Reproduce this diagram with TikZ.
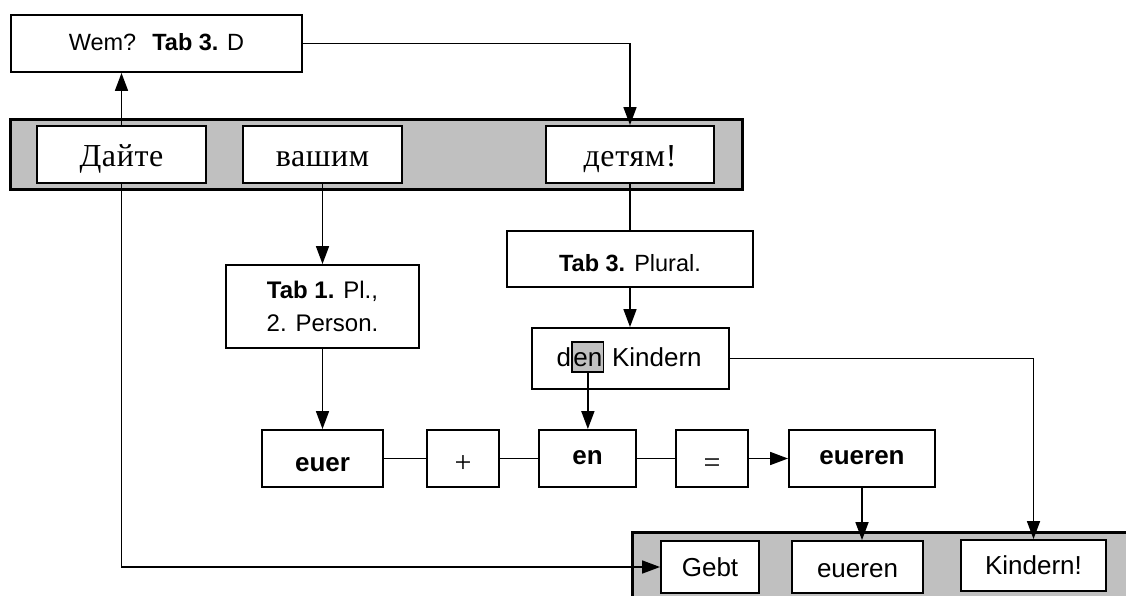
\documentclass[tikz,border=0pt]{standalone}
\usepackage{fontspec}
\setmainfont{Liberation Serif}
\newfontfamily\sansf{Liberation Sans}
\newfontfamily\rusf[LetterSpace=2]{Liberation Serif}
\usetikzlibrary{arrows.meta,calc}
\definecolor{bandgray}{HTML}{C0C0C0}

\begin{document}
\begin{tikzpicture}[x=1pt,y=-1pt,
  box/.style={draw, line width=1.9pt, fill=white, inner sep=0pt},
  tb/.style={text height=#1, text depth=0pt},
  band/.style={draw, fill=bandgray, line width=3.2pt},
  sz23/.style={font=\sansf\fontsize{23.5}{28}\selectfont},
  sz26/.style={font=\sansf\fontsize{26}{31}\selectfont},
  bf26/.style={font=\sansf\bfseries\fontsize{26}{31}\selectfont},
  ru/.style={font=\rusf\fontsize{32}{38}\selectfont},
  op/.style={font=\rmfamily\fontsize{30}{36}\selectfont},
  txt/.style={inner sep=0pt, font=\sansf\fontsize{26}{31}\selectfont},
  conn/.style={line width=1.7pt},
  arr/.style={conn, -{Triangle[length=18pt,width=13pt]}}]

\useasboundingbox (0,0) rectangle (1126,596);
\clip (0,0) rectangle (1126,596);

% grey sentence bands
\draw[band] (10.5,119.5) rectangle (742.5,189.5);
\draw[band] (632.5,532.5) rectangle (1140,610);

% question box
\node[box, sz23, tb=14.4pt, minimum width=291pt, minimum height=57pt] (wem) at (156.5,43.5)
  {Wem?\hspace{16pt}\textbf{Tab 3.} D};

% Russian sentence
\node[box, ru, tb=24.4pt, minimum width=169pt, minimum height=57pt] (daj) at (121.5,154.5) {Дайте};
\node[box, ru, tb=24.4pt, minimum width=159pt, minimum height=57pt] (vash) at (322.5,154.5) {вашим};
\node[box, ru, tb=24.4pt, minimum width=168pt, minimum height=57pt] (det) at (630,154.5) {детям!};

% table references
\node[box, align=center, font=\sansf\fontsize{24}{33}\selectfont,
      minimum width=193pt, minimum height=83pt] (tab1) at (322.5,306.5)
  {\textbf{Tab 1.} Pl.,\\2. Person.};
\node[box, sz23, tb=25.4pt, minimum width=246pt, minimum height=56pt] (tab3) at (630,259)
  {\textbf{Tab 3.}\hspace{9pt}Plural.};

% article with highlighted ending
\node[box, minimum width=197pt, minimum height=61pt] (dk) at (630.5,358.5) {};
\node[txt, anchor=base west] (dd) at (556.5,366.3) {d};
\node[txt, anchor=base west, draw, fill=bandgray, line width=1.7pt,
      inner xsep=1.2pt, inner ysep=1.5pt, text height=23pt, text depth=4pt] (hl) at (dd.base east) {en};
\node[txt, anchor=base west] (kk) at ($(hl.base east)+(7.5,0)$) {Kindern};

% composition row
\node[box, bf26, tb=25pt, minimum width=121pt, minimum height=57pt] (euer) at (322.5,458.5) {euer};
\node[box, op, tb=28.4pt, minimum width=72pt, minimum height=57pt] (plus) at (463,458.5) {+};
\node[box, bf26, tb=12.4pt, minimum width=97pt, minimum height=57pt] (en) at (587.5,458.5) {en};
\node[box, op, tb=28.4pt, minimum width=72pt, minimum height=57pt] (eq) at (712,458.5) {=};
\node[box, bf26, tb=12.4pt, minimum width=146pt, minimum height=57pt] (eueren) at (862,458.5) {eueren};

% German sentence
\node[box, sz26, tb=18pt, minimum width=98pt, minimum height=52pt] (gebt) at (710,567) {Gebt};
\node[box, sz26, tb=20pt, minimum width=131pt, minimum height=52pt] (euer2) at (857.5,567) {eueren};
\node[box, sz26, tb=18pt, minimum width=145pt, minimum height=51pt] (kind) at (1033.5,565.5) {Kindern!};

% connectors
\draw[arr] (daj.north) -- (daj.north |- wem.south);
\draw[arr] (wem.east) -| (det.north);
\draw[arr] (vash.south) -- (tab1.north);
\draw[arr] (tab1.south) -- (euer.north);
\draw[conn] (det.south) -- (tab3.north);
\draw[arr] (tab3.south) -- (tab3.south |- dk.north);
\draw[arr] (hl.south) -- (hl.south |- en.north);
\draw[conn] (euer.east) -- (plus.west);
\draw[conn] (plus.east) -- (en.west);
\draw[conn] (en.east) -- (eq.west);
\draw[arr] (eq.east) -- (eueren.west);
\draw[arr] (eueren.south) -- (eueren.south |- euer2.north);
\draw[arr] (dk.east) -| (kind.north);
\draw[arr] (daj.south) |- (gebt.west);
\end{tikzpicture}
\end{document}
